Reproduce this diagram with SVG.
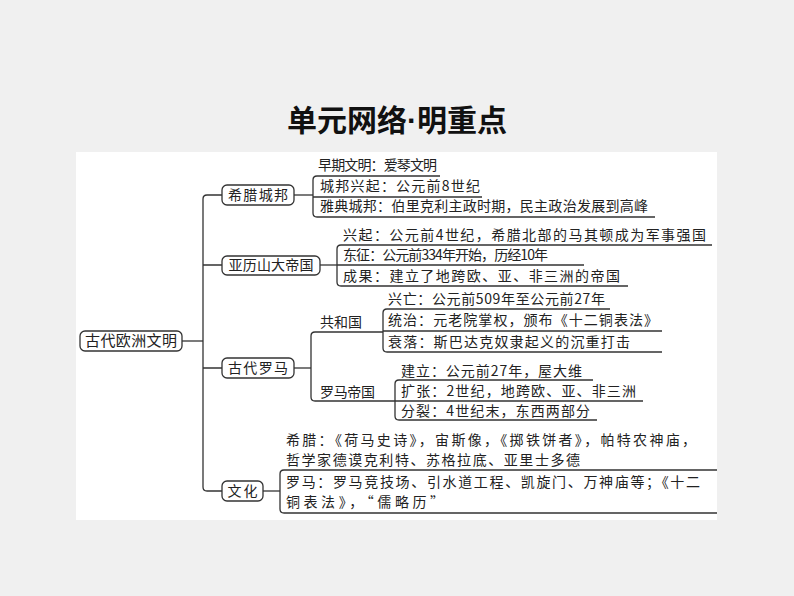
<svg xmlns="http://www.w3.org/2000/svg" width="794" height="596" viewBox="0 0 794 596">
<style>
.t{font-family:"Noto Sans CJK SC","Noto Sans",sans-serif;font-size:14px;fill:#222}
.n{font-family:"Noto Sans CJK SC","Noto Sans",sans-serif;font-size:14px;fill:#222;text-anchor:middle}
.box{fill:#fff;stroke:#333;stroke-width:1.3}
.ln{fill:none;stroke:#333;stroke-width:1.3}
</style>
<rect width="794" height="596" fill="#f0f0f0"/>
<rect x="76" y="152" width="641" height="368" fill="#fff"/>
<text x="397" y="131" text-anchor="middle" style="font-family:'Noto Sans CJK SC',sans-serif;font-size:30px;font-weight:bold;fill:#111">单元网络<tspan style="font-family:'Liberation Sans',sans-serif">·</tspan>明重点</text>

<g id="connectors">
  <path class="ln" d="M182 341H203"/>
  <path class="ln" d="M222 195H207Q203 195 203 199V487Q203 491 207 491H222"/>
  <path class="ln" d="M203 265H222M203 368H222"/>
  <!-- Greece -->
  <path class="ln" d="M294 195H313"/>
  <path class="ln" d="M440 176H317Q313 176 313 180V213Q313 217 317 217H655M313 197H482"/>
  <!-- Alexander -->
  <path class="ln" d="M320 265H337"/>
  <path class="ln" d="M712 245H341Q337 245 337 249V282Q337 286 341 286H628M337 265H584"/>
  <!-- Rome -->
  <path class="ln" d="M294 368H311"/>
  <path class="ln" d="M383 332H315Q311 332 311 336V397Q311 401 315 401H395"/>
  <path class="ln" d="M610 309H387Q383 309 383 313V348Q383 352 387 352H662M383 331H662"/>
  <path class="ln" d="M593 380H399Q395 380 395 384V416Q395 420 399 420H597M395 401H643"/>
  <!-- Culture -->
  <path class="ln" d="M263 491H280"/>
  <path class="ln" d="M717 470H284Q280 470 280 474V509Q280 513 284 513H717"/>
</g>

<g id="root">
  <rect class="box" x="80" y="331" width="102" height="20" rx="5"/>
  <text class="n" x="131" y="346" style="font-size:15px" textLength="92">古代欧洲文明</text>
</g>

<g id="greece">
  <rect class="box" x="222" y="185" width="72" height="20" rx="5"/>
  <text class="n" x="258" y="200" textLength="60">希腊城邦</text>
</g>
<g id="greece-items">
  <text class="t" x="318" y="170" textLength="119">早期文明：爱琴文明</text>
  <text class="t" x="320" y="191" textLength="160">城邦兴起：公元前8世纪</text>
  <text class="t" x="320" y="211" textLength="328">雅典城邦：伯里克利主政时期，民主政治发展到高峰</text>
</g>

<g id="alexander">
  <rect class="box" x="222" y="256" width="98" height="19" rx="5"/>
  <text class="n" x="271" y="270" textLength="85">亚历山大帝国</text>
</g>
<g id="alexander-items">
  <text class="t" x="343" y="240" textLength="363">兴起：公元前4世纪，希腊北部的马其顿成为军事强国</text>
  <text class="t" x="343" y="260" textLength="205">东征：公元前334年开始，历经10年</text>
  <text class="t" x="343" y="281" textLength="277">成果：建立了地跨欧、亚、非三洲的帝国</text>
</g>

<g id="rome">
  <rect class="box" x="222" y="358" width="72" height="20" rx="5"/>
  <text class="n" x="258" y="373" textLength="60">古代罗马</text>
</g>
<g id="republic">
  <text class="t" x="320" y="327" textLength="42">共和国</text>
  <text class="t" x="388" y="304" textLength="217">兴亡：公元前509年至公元前27年</text>
  <text class="t" x="388" y="325" textLength="270">统治：元老院掌权，颁布《十二铜表法》</text>
  <text class="t" x="388" y="347" textLength="242">衰落：斯巴达克奴隶起义的沉重打击</text>
</g>
<g id="empire">
  <text class="t" x="320" y="397" textLength="55">罗马帝国</text>
  <text class="t" x="401" y="376" textLength="181">建立：公元前27年，屋大维</text>
  <text class="t" x="401" y="396" textLength="235">扩张：2世纪，地跨欧、亚、非三洲</text>
  <text class="t" x="401" y="416" textLength="189">分裂：4世纪末，东西两部分</text>
</g>

<g id="culture">
  <rect class="box" x="222" y="481" width="41" height="20" rx="5"/>
  <text class="n" x="242.5" y="496" textLength="30">文化</text>
</g>
<g id="culture-items">
  <text class="t" x="286" y="445" textLength="410">希腊：《荷马史诗》，宙斯像，《掷铁饼者》，帕特农神庙，</text>
  <text class="t" x="286" y="465" textLength="294">哲学家德谟克利特、苏格拉底、亚里士多德</text>
  <text class="t" x="286" y="487" textLength="414">罗马：罗马竞技场、引水道工程、凯旋门、万神庙等；《十二</text>
  <text class="t" x="286" y="507" textLength="158">铜表法》，“儒略历”</text>
</g>
</svg>
